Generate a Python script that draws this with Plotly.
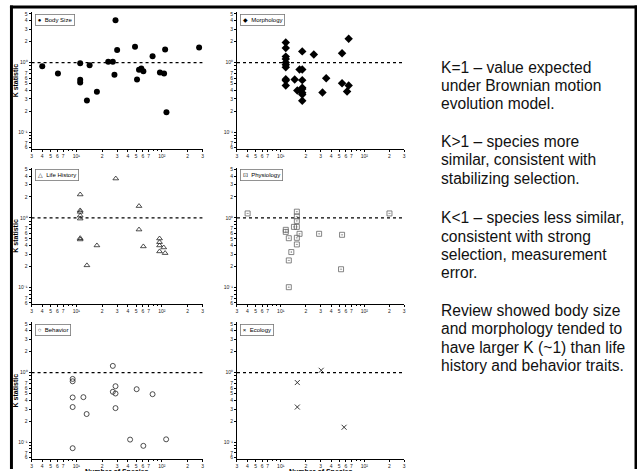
import plotly.graph_objects as go

W, H = 639, 471

# ---------------- data (number of species, K statistic) ----------------
body_n = [4.0, 6.1, 11.1, 11.1, 11.1, 13.3, 14.3, 17.4, 23.6, 26.7, 28.7, 27.9,
          30.0, 48.5, 51.2, 54.0, 57.5, 60.7, 77.8, 94.8, 106, 109, 113, 272]
body_k = [0.885, 0.70, 0.98, 0.566, 0.52, 0.286, 0.915, 0.381, 1.03, 1.03, 4.07, 0.667,
          1.52, 1.69, 0.57, 0.787, 0.82, 0.75, 1.23, 0.72, 0.70, 1.55, 0.193, 1.65]

morph_n = [11.5, 11.5, 11.5, 11.5, 11.5, 11.5, 11.5, 11.5, 11.5, 11.5,
           14.7, 15.8, 16.8, 18.1, 18.1, 18.1, 18.1, 18.1, 18.1, 18.1, 18.1,
           24.9, 31.6, 35.0, 54.2, 54.2, 62.2, 65.0, 65.0]
morph_k = [1.95, 1.62, 1.22, 1.13, 1.0, 0.93, 0.86, 0.578, 0.553, 0.469,
           0.571, 0.398, 0.794, 0.794, 1.45, 0.56, 0.435, 0.416, 0.369, 0.349, 0.283,
           1.31, 0.373, 0.597, 1.36, 0.507, 0.385, 2.2, 0.469]

life_n = [28.9, 11.1, 11.1, 11.1, 11.1, 11.1, 11.1, 11.1, 13.3, 17.4, 54.0, 54.0,
          60.7, 93.8, 93.8, 93.8, 93.8, 105, 109]
life_k = [3.68, 2.17, 1.28, 1.22, 1.08, 0.977, 0.511, 0.49, 0.208, 0.402, 1.48, 0.68,
          0.389, 0.506, 0.448, 0.402, 0.33, 0.376, 0.312]

phys_n = [4.02, 11.5, 11.5, 12.5, 12.5, 12.5, 13.4, 14.4, 15.6, 15.6, 15.6, 15.6,
          15.6, 15.6, 16.8, 28.8, 54.2, 52.7, 200]
phys_k = [1.16, 0.674, 0.63, 0.511, 0.245, 0.101, 0.323, 0.744, 1.23, 1.05, 0.906, 0.744,
          0.518, 0.416, 0.591, 0.591, 0.572, 0.183, 1.16]

behav_n = [9.06, 9.06, 9.06, 9.06, 9.06, 12.1, 13.2, 26.7, 26.7, 28.7, 28.7, 28.7,
           42.5, 50.7, 60.7, 77.8, 112]
behav_k = [0.813, 0.751, 0.44, 0.32, 0.082, 0.444, 0.254, 1.25, 0.53, 0.638, 0.501, 0.309,
           0.109, 0.578, 0.0887, 0.49, 0.11]

eco_n = [30.5, 15.8, 15.8, 57.3]
eco_k = [1.08, 0.72, 0.32, 0.164]

panel_names = ["Body Size", "Morphology", "Life History", "Physiology", "Behavior", "Ecology"]
legend_glyphs = ["\u25CF", "\u25C6", "\u25B3", "\u22A1", "\u25CB", "\u00D7"]

x_tick_vals = [3, 4, 5, 6, 7, 10, 20, 30, 40, 50, 60, 70, 100, 200, 300]
x_tick_text = ["3", "4", "5", "6", "7", "10\u00B9", "2", "3", "4", "5", "6", "7",
               "10\u00B2", "2", "3"]
x_minor_vals = [8, 9, 80, 90]
y_tick_vals = [0.06, 0.07, 0.1, 0.2, 0.3, 0.4, 0.5, 0.6, 0.7, 1, 2, 3, 4, 5]
y_tick_text = ["6", "7", "10\u207B\u00B9", "2", "3", "4", "5", "6", "7",
               "10\u2070", "2", "3", "4", "5"]
y_minor_vals = [0.08, 0.09, 0.8, 0.9]

x_limits = [3, 300]
ref_k = 1.0

side_text = [
    ["K=1 \u2013 value expected", "under Brownian motion", "evolution model."],
    ["K>1 \u2013 species more", "similar, consistent with", "stabilizing selection."],
    ["K<1 \u2013 species less similar,", "consistent with strong",
     "selection, measurement", "error."],
    ["Review showed body size", "and morphology tended to",
     "have larger K (~1) than life", "history and behavior traits."],
]

# ---------------- layout geometry (pixels) ----------------
col_px = [(30.7, 202.7), (237.1, 405.1)]
row_px = [(11.3, 148.6), (167.6, 304.9), (323.3, 460.6)]


def fx(px):
    return px / W


def fy(py):
    return 1 - py / H


series = [
    (body_n, body_k, dict(symbol="circle", size=6, color="black")),
    (morph_n, morph_k, dict(symbol="diamond", size=6.5, color="black")),
    (life_n, life_k, dict(symbol="triangle-up-open", size=5, color="#222",
                          line=dict(width=0.8, color="#222"))),
    (phys_n, phys_k, dict(symbol="square-open-dot", size=5, color="#666",
                          line=dict(width=0.8, color="#666"))),
    (behav_n, behav_k, dict(symbol="circle-open", size=5, color="#222",
                            line=dict(width=0.8, color="#222"))),
    (eco_n, eco_k, dict(symbol="x-thin-open", size=5, color="#222",
                        line=dict(width=0.9, color="#222"))),
]

fig = go.Figure()
annotations = []
layout_axes = {}
tick_font = dict(family="Liberation Sans, Arial", size=5, color="#222")

for i, (xs, ys, mk) in enumerate(series):
    r, c = divmod(i, 2)
    ax_id = "" if i == 0 else str(i + 1)
    xa, ya = "x" + ax_id, "y" + ax_id
    # K=1 reference line
    fig.add_trace(go.Scatter(x=x_limits, y=[ref_k, ref_k], mode="lines",
                             line=dict(color="black", width=1.1, dash="dot"),
                             xaxis=xa, yaxis=ya, showlegend=False, hoverinfo="skip"))
    fig.add_trace(go.Scatter(x=xs, y=ys, mode="markers", marker=mk, name=panel_names[i],
                             xaxis=xa, yaxis=ya, showlegend=False))
    x0, x1 = col_px[c]
    y0, y1 = row_px[r]
    layout_axes["xaxis" + ax_id] = dict(
        type="log", domain=[fx(x0), fx(x1)], anchor=ya,
        range=[0.4771, 2.4771], tickmode="array", tickvals=x_tick_vals, ticktext=x_tick_text,
        minor=dict(tickmode="array", tickvals=x_minor_vals, ticks="outside", ticklen=1.5,
                   tickwidth=0.6, tickcolor="black"),
        showline=True, linecolor="black", linewidth=1, ticks="outside", ticklen=2,
        tickwidth=0.8, tickcolor="black", showgrid=False, zeroline=False,
        tickfont=tick_font)
    layout_axes["yaxis" + ax_id] = dict(
        type="log", domain=[fy(y1), fy(y0)], anchor=xa,
        range=[-1.2366, 0.7243], tickmode="array", tickvals=y_tick_vals, ticktext=y_tick_text,
        minor=dict(tickmode="array", tickvals=y_minor_vals, ticks="outside", ticklen=1.5,
                   tickwidth=0.6, tickcolor="black"),
        showline=True, linecolor="black", linewidth=1, ticks="outside", ticklen=2,
        tickwidth=0.8, tickcolor="black", showgrid=False, zeroline=False,
        tickfont=tick_font)
    # legend-like label box
    annotations.append(dict(
        text=legend_glyphs[i] + "  " + panel_names[i], xref="paper", yref="paper",
        x=fx(x0 + 3.5), y=fy(y0 + 1.5), xanchor="left", yanchor="top", showarrow=False,
        font=dict(family="Liberation Sans, Arial", size=6, color="black"),
        bordercolor="#777", borderwidth=0.8, borderpad=2, bgcolor="white"))
    if c == 0:
        annotations.append(dict(
            text="<b>K statistic</b>", xref="paper", yref="paper", x=fx(15),
            y=fy((y0 + y1) / 2), textangle=-90, showarrow=False, xanchor="center",
            yanchor="middle", font=dict(family="Liberation Sans, Arial", size=7, color="black")))
    if r == 2:
        annotations.append(dict(
            text="<b>Number of Species</b>", xref="paper", yref="paper", x=fx((x0 + x1) / 2),
            y=fy(467.5), showarrow=False, xanchor="center", yanchor="top",
            font=dict(family="Liberation Sans, Arial", size=7, color="black")))

# right-hand explanatory text
line_centers = [[66.7, 85, 103.3], [141.7, 160, 178.3], [218.3, 236.7, 255, 273.3],
                [311.7, 330, 348.3, 366.7]]
for para, centers in zip(side_text, line_centers):
    for txt, cy in zip(para, centers):
        annotations.append(dict(
            text=txt, xref="paper", yref="paper", x=fx(440.5), y=fy(cy), xanchor="left",
            yanchor="middle", showarrow=False,
            font=dict(family="Liberation Sans, Arial", size=15.6, color="#111")))

# slide frame
shapes = [
    dict(type="rect", xref="paper", yref="paper", x0=fx(9), x1=fx(639), y0=fy(7.5), y1=fy(4.5),
         fillcolor="black", line=dict(width=0)),
    dict(type="rect", xref="paper", yref="paper", x0=fx(9), x1=fx(12), y0=fy(471), y1=fy(4.5),
         fillcolor="black", line=dict(width=0)),
    dict(type="rect", xref="paper", yref="paper", x0=fx(636.5), x1=fx(639), y0=fy(471),
         y1=fy(4.5), fillcolor="black", line=dict(width=0)),
]

fig.update_layout(
    width=W, height=H, margin=dict(l=0, r=0, t=0, b=0),
    paper_bgcolor="white", plot_bgcolor="white",
    annotations=annotations, shapes=shapes, showlegend=False,
    **layout_axes)

fig.write_html("out.html", config={"displayModeBar": False},
               post_script="document.body.style.margin='0';"
               "document.body.style.overflow='hidden';")
